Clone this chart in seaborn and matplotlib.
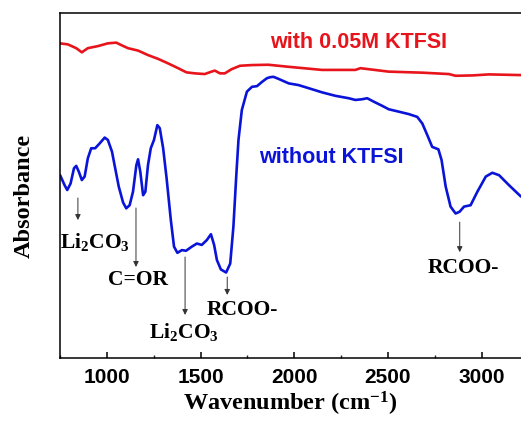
import numpy as np
import pandas as pd
import matplotlib
matplotlib.use("Agg")
import matplotlib.pyplot as plt
import seaborn as sns
from matplotlib.ticker import MultipleLocator

# ---- data (arbitrary absorbance units) ----
red_wn = [749, 791, 836, 866, 898, 952, 1005, 1050, 1076, 1112, 1166, 1219, 1273,
          1326, 1380, 1424, 1469, 1522, 1558, 1576, 1603, 1629, 1665, 1710, 1772,
          1861, 1970, 2148, 2326, 2353, 2504, 2683, 2825, 2861, 2950, 3039, 3210]
red_abs = [0.912, 0.909, 0.898, 0.886, 0.898, 0.904, 0.912, 0.914, 0.907, 0.898,
           0.891, 0.878, 0.867, 0.854, 0.840, 0.828, 0.825, 0.823, 0.830, 0.833,
           0.825, 0.825, 0.837, 0.847, 0.849, 0.850, 0.844, 0.835, 0.835, 0.840,
           0.830, 0.827, 0.823, 0.818, 0.819, 0.822, 0.820]

blue_wn = [750, 774, 788, 806, 824, 836, 850, 866, 881, 898, 916, 937, 961, 988,
           1005, 1027, 1044, 1063, 1086, 1103, 1121, 1139, 1157, 1166, 1178, 1193,
           1205, 1219, 1234, 1251, 1269, 1282, 1300, 1318, 1341, 1358, 1376, 1400,
           1422, 1453, 1480, 1506, 1533, 1555, 1572, 1587, 1608, 1636, 1658, 1675,
           1690, 1702, 1720, 1747, 1774, 1801, 1827, 1854, 1872, 1889, 1916, 1970,
           2023, 2077, 2148, 2219, 2290, 2326, 2362, 2389, 2424, 2469, 2504, 2558,
           2611, 2656, 2683, 2710, 2736, 2769, 2786, 2808, 2834, 2861, 2882, 2906,
           2941, 2977, 3022, 3057, 3093, 3146, 3210]
blue_abs = [0.530, 0.501, 0.487, 0.506, 0.550, 0.557, 0.540, 0.516, 0.526, 0.579,
            0.608, 0.608, 0.622, 0.639, 0.632, 0.598, 0.550, 0.497, 0.451, 0.434,
            0.443, 0.482, 0.559, 0.576, 0.540, 0.472, 0.482, 0.559, 0.608, 0.632,
            0.675, 0.666, 0.608, 0.523, 0.400, 0.323, 0.305, 0.313, 0.311, 0.323,
            0.332, 0.328, 0.342, 0.359, 0.328, 0.284, 0.257, 0.248, 0.274, 0.381,
            0.526, 0.632, 0.719, 0.772, 0.786, 0.788, 0.800, 0.811, 0.814, 0.815,
            0.809, 0.796, 0.791, 0.782, 0.770, 0.760, 0.753, 0.748, 0.750, 0.753,
            0.743, 0.731, 0.721, 0.714, 0.707, 0.699, 0.680, 0.646, 0.612, 0.605,
            0.574, 0.497, 0.439, 0.419, 0.424, 0.439, 0.443, 0.482, 0.526, 0.537,
            0.530, 0.501, 0.468]

series_labels = ["with 0.05M KTFSI", "without KTFSI"]
x_ticks = [1000, 1500, 2000, 2500, 3000]

# annotations: text, arrow x, arrow start y, arrow end y, text x, text y
ann_text = [r"Li$_2$CO$_3$", "C=OR", r"Li$_2$CO$_3$", "RCOO-", "RCOO-"]
ann_x = [845, 1155, 1417, 1642, 2883]
ann_y0 = [0.464, 0.435, 0.293, 0.235, 0.394]
ann_y1 = [0.400, 0.264, 0.125, 0.183, 0.307]
ann_tx = [936, 1166, 1412, 1722, 2904]
ann_ty = [0.336, 0.226, 0.075, 0.139, 0.261]

red_df = pd.DataFrame({"wn": red_wn, "A": red_abs})
blue_df = pd.DataFrame({"wn": blue_wn, "A": blue_abs})

sns.set_theme(style="white")
plt.rcParams["font.family"] = ["Liberation Sans", "DejaVu Sans"]
plt.rcParams["mathtext.fontset"] = "custom"
plt.rcParams["mathtext.default"] = "regular"

fig = plt.figure(figsize=(5.21, 4.32), dpi=100)
ax = fig.add_axes([0.115, 0.171, 0.885, 0.799])

sns.lineplot(data=red_df, x="wn", y="A", color="#e8141b", lw=1.9, ax=ax, sort=False)
sns.lineplot(data=blue_df, x="wn", y="A", color="#0a14d8", lw=1.9, ax=ax, sort=False)
for ln in ax.lines:
    ln.set_solid_joinstyle("round")
    ln.set_solid_capstyle("round")

ax.set_xlim(749, 3210)
ax.set_ylim(0, 1)
ax.set_yticks([])
ax.xaxis.set_major_locator(MultipleLocator(500))
ax.xaxis.set_minor_locator(MultipleLocator(250))
ax.set_xticks(x_ticks)
ax.tick_params(axis="x", which="major", direction="in", length=4.5, width=1.1,
               bottom=True, pad=7, labelsize=15, colors="black")
ax.tick_params(axis="x", which="minor", direction="in", length=2.5, width=1.0, bottom=True)
for lab in ax.get_xticklabels():
    lab.set_fontweight("bold")
    lab.set_family(["Liberation Sans"])

for side in ["left", "bottom", "top"]:
    ax.spines[side].set_visible(True)
    ax.spines[side].set_color("black")
    ax.spines[side].set_linewidth(1.1)
ax.spines["right"].set_visible(False)

serif = ["Liberation Serif", "DejaVu Serif"]
ax.set_xlabel(r"Wavenumber (cm$^{-1}$)", fontsize=17.5, fontweight="bold",
              family=serif, labelpad=2, color="black")
ax.set_ylabel("Absorbance", fontsize=17.5, fontweight="bold", family=serif,
              color="black")
ax.yaxis.set_label_coords(-0.054, 0.47)

ax.text(2342, 0.913, series_labels[0], color="#e8141b", fontsize=15.5,
        fontweight="bold", ha="center", va="center", family=["Liberation Sans"])
ax.text(2198, 0.580, series_labels[1], color="#0a14d8", fontsize=15.5,
        fontweight="bold", ha="center", va="center", family=["Liberation Sans"])

for t, x, y0, y1, tx, ty in zip(ann_text, ann_x, ann_y0, ann_y1, ann_tx, ann_ty):
    ax.annotate("", xy=(x, y1), xytext=(x, y0),
                arrowprops=dict(arrowstyle="-|>", color="#333333", lw=0.7,
                                mutation_scale=8, shrinkA=0, shrinkB=0))
    ax.text(tx, ty, t, fontsize=15.5, fontweight="bold", family=serif,
            ha="center", va="center", color="black")

fig.savefig("out.png", dpi=100, facecolor="white")
